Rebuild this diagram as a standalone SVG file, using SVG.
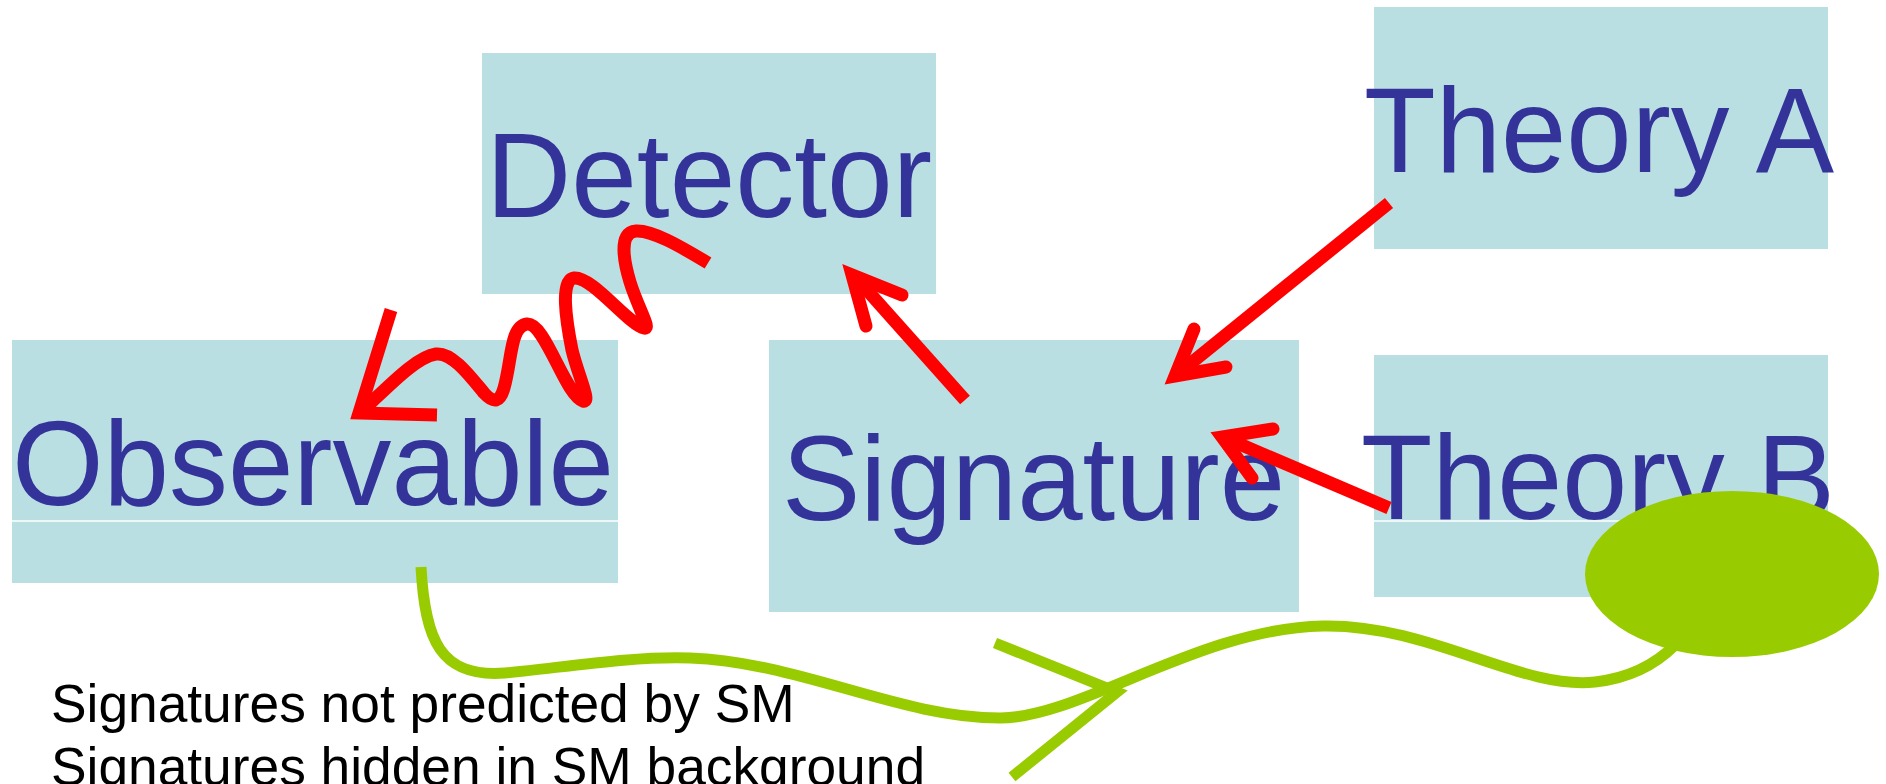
<svg xmlns="http://www.w3.org/2000/svg" width="1886" height="784" viewBox="0 0 1886 784">
  <style>
    .box { fill: #B9DFE2; }
    .sep { stroke: #FFFFFF; stroke-width: 1.5; }
    .lbl { font-family: "Liberation Sans", Arial, sans-serif; font-size: 120px; fill: #333399; }
    .note { font-family: "Liberation Sans", Arial, sans-serif; font-size: 53.3px; fill: #000000; }
    .red { fill: none; stroke: #FF0000; stroke-width: 13; }
    .redhead { fill: none; stroke: #FF0000; stroke-width: 13; stroke-linejoin: miter; stroke-linecap: round; stroke-miterlimit: 10; }
    .green { fill: none; stroke: #99CC00; stroke-width: 11; }
  </style>
  <rect width="1886" height="784" fill="#FFFFFF"/>

  <g id="detector">
    <rect class="box" x="482" y="53" width="454" height="241"/>
    <text class="lbl" x="486" y="217" textLength="446" lengthAdjust="spacingAndGlyphs">Detector</text>
  </g>

  <g id="observable">
    <rect class="box" x="12" y="340" width="606" height="243"/>
    <text class="lbl" x="12" y="505" textLength="602" lengthAdjust="spacingAndGlyphs">Observable</text>
    <line class="sep" x1="12" y1="521" x2="618" y2="521"/>
  </g>

  <g id="signature">
    <rect class="box" x="769" y="340" width="530" height="272"/>
    <text class="lbl" x="782" y="520" textLength="503" lengthAdjust="spacingAndGlyphs">Signature</text>
  </g>

  <g id="theoryA">
    <rect class="box" x="1374" y="7" width="454" height="242"/>
    <text class="lbl" x="1364" y="172" textLength="470" lengthAdjust="spacingAndGlyphs">Theory A</text>
  </g>

  <g id="theoryB">
    <rect class="box" x="1374" y="355" width="454" height="242"/>
    <text class="lbl" x="1361" y="519" textLength="474" lengthAdjust="spacingAndGlyphs">Theory B</text>
    <line class="sep" x1="1374" y1="521" x2="1828" y2="521"/>
  </g>

  <g id="connectors">
    <!-- Detector to Observable (wavy) -->
    <path class="red" d="M708,263 C680,246 652,230 636,231 C618,232 624,262 630,282 C638,308 652,330 644,328 C628,324 592,276 574,278 C560,280 566,320 572,350 C578,375 592,404 583,401 C565,395 545,322 527,324 C510,326 512,360 504,388 C500,402 494,404 484,393 C470,376 452,352 436,354 C416,357 390,385 362,411"/>
    <polyline class="red" points="391,310 359,413 437,415" style="stroke-linejoin:miter;stroke-linecap:butt"/>

    <!-- Signature to Detector -->
    <line class="red" x1="965" y1="400" x2="858" y2="280"/>
    <polyline class="redhead" points="866,326 852,275 902,295"/>

    <!-- Theory A to Signature -->
    <line class="red" x1="1389" y1="203" x2="1180" y2="372"/>
    <polyline class="redhead" points="1194,329 1175,376 1226,367"/>

    <!-- Theory B to Signature -->
    <line class="red" x1="1389" y1="508" x2="1230" y2="440"/>
    <polyline class="redhead" points="1273,429 1222,437 1252,478"/>

    <!-- green connector -->
    <path class="green" d="M421,567 C425,640 440,678 505,673 C560,668 630,656 690,658 C800,662 900,718 1000,718 C1080,718 1200,628 1323,626 C1430,624 1520,690 1595,682 C1630,678 1655,665 1675,645"/>
    <polyline class="green" points="995,643 1117,692 1012,777" style="stroke-linejoin:miter"/>
  </g>

  <g id="blob">
    <ellipse cx="1732" cy="574" rx="147" ry="83" fill="#99CC00"/>
  </g>

  <g id="notes">
    <text class="note" x="51" y="722">Signatures not predicted by SM</text>
    <text class="note" x="51" y="785">Signatures hidden in SM background</text>
  </g>
</svg>
